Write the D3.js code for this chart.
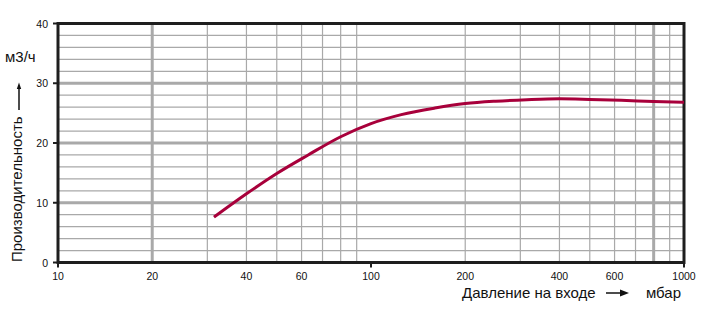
<!DOCTYPE html>
<html>
<head>
<meta charset="utf-8">
<script src="https://cdn.jsdelivr.net/npm/d3@7"></script>
<style>
  body { margin: 0; background: #fff; }
  text { font-family: "Liberation Sans", Arial, sans-serif; fill: #111; }
</style>
</head>
<body>
<script>
// values
var pressure = [31.5, 40, 50, 63, 80, 100, 125, 160, 200, 250, 315, 400, 500, 630, 800, 1000];
var flow     = [7.6, 11.5, 14.9, 18.0, 21.05, 23.25, 24.75, 25.85, 26.6, 27.0, 27.25, 27.4, 27.3, 27.15, 26.95, 26.8];

var xTickLabels = [10, 20, 40, 60, 100, 200, 400, 600, 1000];
var yTickLabels = [0, 10, 20, 30, 40];
var xMajorGrid  = [20, 100, 800];
var yMajorGrid  = [10, 20, 30];

const width = 722, height = 324;

const svg = d3.select("body")
              .append("svg")
              .attr("width", width)
              .attr("height", height);

const x = d3.scaleLog().domain([10, 1000]).range([58, 684]);
const y = d3.scaleLinear().domain([0, 40]).range([262.5, 23.5]);

// minor vertical grid: 20..90, 200..900
var xMinor = [];
[10, 100].forEach(function(dec) {
  for (var k = 2; k <= 9; k++) xMinor.push(k * dec);
});
var yMinor = d3.range(2, 40, 2);

svg.append("g").selectAll("line")
  .data(xMinor)
  .enter().append("line")
  .attr("x1", d => x(d)).attr("x2", d => x(d))
  .attr("y1", y(0)).attr("y2", y(40))
  .attr("stroke", "#a9a9a9")
  .attr("stroke-width", d => xMajorGrid.indexOf(d) >= 0 ? 3 : 1.2);

svg.append("g").selectAll("line")
  .data(yMinor)
  .enter().append("line")
  .attr("x1", x(10)).attr("x2", x(1000))
  .attr("y1", d => y(d)).attr("y2", d => y(d))
  .attr("stroke", "#a9a9a9")
  .attr("stroke-width", d => yMajorGrid.indexOf(d) >= 0 ? 3 : 1.2);

// frame
svg.append("rect")
  .attr("x", x(10)).attr("y", y(40))
  .attr("width", x(1000) - x(10))
  .attr("height", y(0) - y(40))
  .attr("fill", "none")
  .attr("stroke", "#1e1e1e")
  .attr("stroke-width", 3);

// small ticks
svg.append("g").selectAll("line")
  .data(yTickLabels)
  .enter().append("line")
  .attr("x1", x(10) - 5).attr("x2", x(10))
  .attr("y1", d => y(d)).attr("y2", d => y(d))
  .attr("stroke", "#1e1e1e").attr("stroke-width", 2);

svg.append("g").selectAll("line")
  .data([10, 100, 1000])
  .enter().append("line")
  .attr("x1", d => x(d)).attr("x2", d => x(d))
  .attr("y1", y(0)).attr("y2", y(0) + 5)
  .attr("stroke", "#1e1e1e").attr("stroke-width", 2);

// tick labels
svg.append("g").selectAll("text")
  .data(yTickLabels)
  .enter().append("text")
  .attr("x", 48)
  .attr("y", d => y(d) + 4)
  .attr("text-anchor", "end")
  .attr("font-size", 10.5)
  .text(d => d);

svg.append("g").selectAll("text")
  .data(xTickLabels)
  .enter().append("text")
  .attr("x", d => x(d))
  .attr("y", 280)
  .attr("text-anchor", "middle")
  .attr("font-size", 10.5)
  .text(d => d);

// curve
var line = d3.line()
  .x(d => x(d[0]))
  .y(d => y(d[1]))
  .curve(d3.curveMonotoneX);

svg.append("path")
  .datum(d3.zip(pressure, flow))
  .attr("fill", "none")
  .attr("stroke", "#a8003b")
  .attr("stroke-width", 3)
  .attr("d", line);

// axis titles
svg.append("text")
  .attr("x", 462).attr("y", 298)
  .attr("font-size", 15)
  .text("Давление на входе");

svg.append("text")
  .attr("x", 681).attr("y", 298)
  .attr("text-anchor", "end")
  .attr("font-size", 15)
  .text("мбар");

svg.append("line")
  .attr("x1", 606).attr("x2", 621)
  .attr("y1", 293).attr("y2", 293)
  .attr("stroke", "#111").attr("stroke-width", 1.5);
svg.append("path")
  .attr("d", "M620,289.5 L629,293 L620,296.5 Z")
  .attr("fill", "#111");

svg.append("text")
  .attr("transform", "translate(22,262) rotate(-90)")
  .attr("font-size", 15)
  .text("Производительность");

svg.append("text")
  .attr("x", 5).attr("y", 62)
  .attr("font-size", 15)
  .text("м3/ч");

svg.append("line")
  .attr("x1", 19).attr("x2", 19)
  .attr("y1", 110).attr("y2", 88)
  .attr("stroke", "#111").attr("stroke-width", 1.5);
svg.append("path")
  .attr("d", "M16.8,89 L19,82.5 L21.2,89 Z")
  .attr("fill", "#111");
</script>
</body>
</html>
